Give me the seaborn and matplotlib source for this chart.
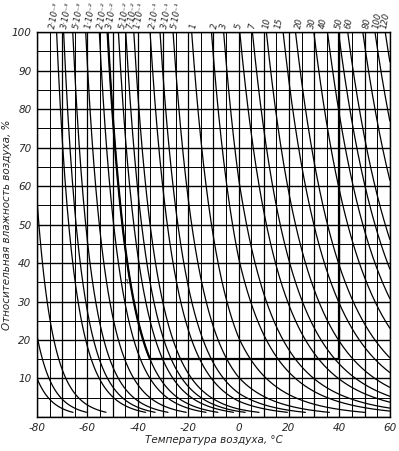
import numpy as np
import pandas as pd
import matplotlib
matplotlib.use("Agg")
import matplotlib.pyplot as plt
import seaborn as sns

# absolute humidity levels of the labelled isolines (g/m3)
levels = [2e-3, 3e-3, 5e-3, 1e-2, 2e-2, 3e-2, 5e-2, 7e-2, 1e-1, 2e-1, 3e-1, 5e-1,
          1, 2, 3, 5, 7, 10, 15, 20, 30, 40, 50, 60, 80, 100, 120]
level_labels = ["2·10⁻³", "3·10⁻³", "5·10⁻³", "1·10⁻²", "2·10⁻²", "3·10⁻²",
                "5·10⁻²", "7·10⁻²", "1·10⁻¹", "2·10⁻¹", "3·10⁻¹", "5·10⁻¹",
                "1", "2", "3", "5", "7", "10", "15", "20", "30", "40", "50",
                "60", "80", "100", "120"]
# where each label sits along the top edge (°C)
label_t = [-73.7, -69.0, -64.6, -59.9, -54.8, -51.2, -46.1, -43.3, -40.2,
           -34.3, -29.5, -25.6, -18.1, -9.4, -5.9, 0.0, 5.2, 10.7, 15.8,
           23.7, 28.8, 33.4, 39.5, 43.4, 50.5, 54.5, 57.6]
# unlabelled isolines: relative humidity where they meet the -80 °C edge
left_edge_rh = [56, 21, 10]

# worked example: 40 °C, 15 % -> along the 3·10⁻² line
example_t = 40
example_rh = 15
example_level = 3e-2


def rho_sat(t):
    t = np.asarray(t, dtype=float)
    e_ice = 6.112 * np.exp(22.46 * t / (272.62 + t))
    e_wat = 6.112 * np.exp(17.62 * t / (243.12 + t))
    e = np.where(t < 0, e_ice, e_wat)
    return 216.7 * e / (t + 273.15)


tg = np.linspace(-100, 70, 4000)
lrho = np.log(rho_sat(tg))


def t_sat(a):
    return np.interp(np.log(a), lrho, tg)


all_levels = list(levels) + [r / 100 * rho_sat(-80.0) for r in left_edge_rh]

rows = []
for i, a in enumerate(all_levels):
    t0 = max(-80.0, float(t_sat(a)))
    t = np.linspace(t0, 60, 600)
    rh = 100 * a / rho_sat(t)
    keep = (rh >= 1.2) & (rh <= 100.01)
    for tt, rr in zip(t[keep], rh[keep]):
        rows.append((i, tt, rr))
df = pd.DataFrame(rows, columns=["curve", "T", "RH"])

sns.set_style("white")
plt.rcParams["font.family"] = ["DejaVu Sans"]

fig = plt.figure(figsize=(3.99, 4.51), dpi=100)
ax = fig.add_axes([0.093, 0.0754, 0.884, 0.8536])

# grid
for x in range(-80, 61, 5):
    ax.axvline(x, color="black", lw=0.9 if x % 10 == 0 else 0.7, zorder=1)
for y in range(0, 101, 5):
    ax.axhline(y, color="black", lw=1.0 if y % 10 == 0 else 0.7, zorder=1)

sns.lineplot(data=df, x="T", y="RH", units="curve", estimator=None,
             color="black", lw=0.9, ax=ax, zorder=2)

# example path
ts = float(t_sat(example_level))
t_ex = np.linspace(ts, 60, 800)
rh_ex = 100 * example_level / rho_sat(t_ex)
m = rh_ex >= example_rh
ax.plot(t_ex[m], rh_ex[m], color="black", lw=1.6, zorder=3)
t_end = t_ex[m][-1]
ax.plot([t_end, example_t], [example_rh, example_rh], color="black", lw=1.6, zorder=3)
ax.plot([example_t, example_t], [example_rh, 100], color="black", lw=1.6, zorder=3)
ax.text(-45, 35, "А", fontsize=5, style="italic", ha="center", va="center")

ax.set_xlim(-80, 60)
ax.set_ylim(0, 100)
ax.set_xticks(range(-80, 61, 20))
ax.set_xticklabels(["-80", "-60", "-40", "-20", "0", "20", "40", "60"])
ax.set_yticks(range(10, 101, 10))
ax.tick_params(length=0, labelsize=7.5, pad=4)
for lab in ax.get_xticklabels() + ax.get_yticklabels():
    lab.set_fontstyle("italic")
for s in ax.spines.values():
    s.set_color("black")
    s.set_linewidth(1.0)

ax.set_xlabel("Температура воздуха, °С", fontsize=7.5, style="italic", labelpad=2)
ax.set_ylabel("Относительная влажность воздуха, %", fontsize=7.5, style="italic")
ax.yaxis.set_label_coords(-0.072, 0.5)

for xt, lab in zip(label_t, level_labels):
    ax.text(xt, 101.0, lab, rotation=80, rotation_mode="anchor",
            ha="left", va="center", fontsize=6.1, style="italic", clip_on=False)

fig.savefig("out.png", dpi=100)
